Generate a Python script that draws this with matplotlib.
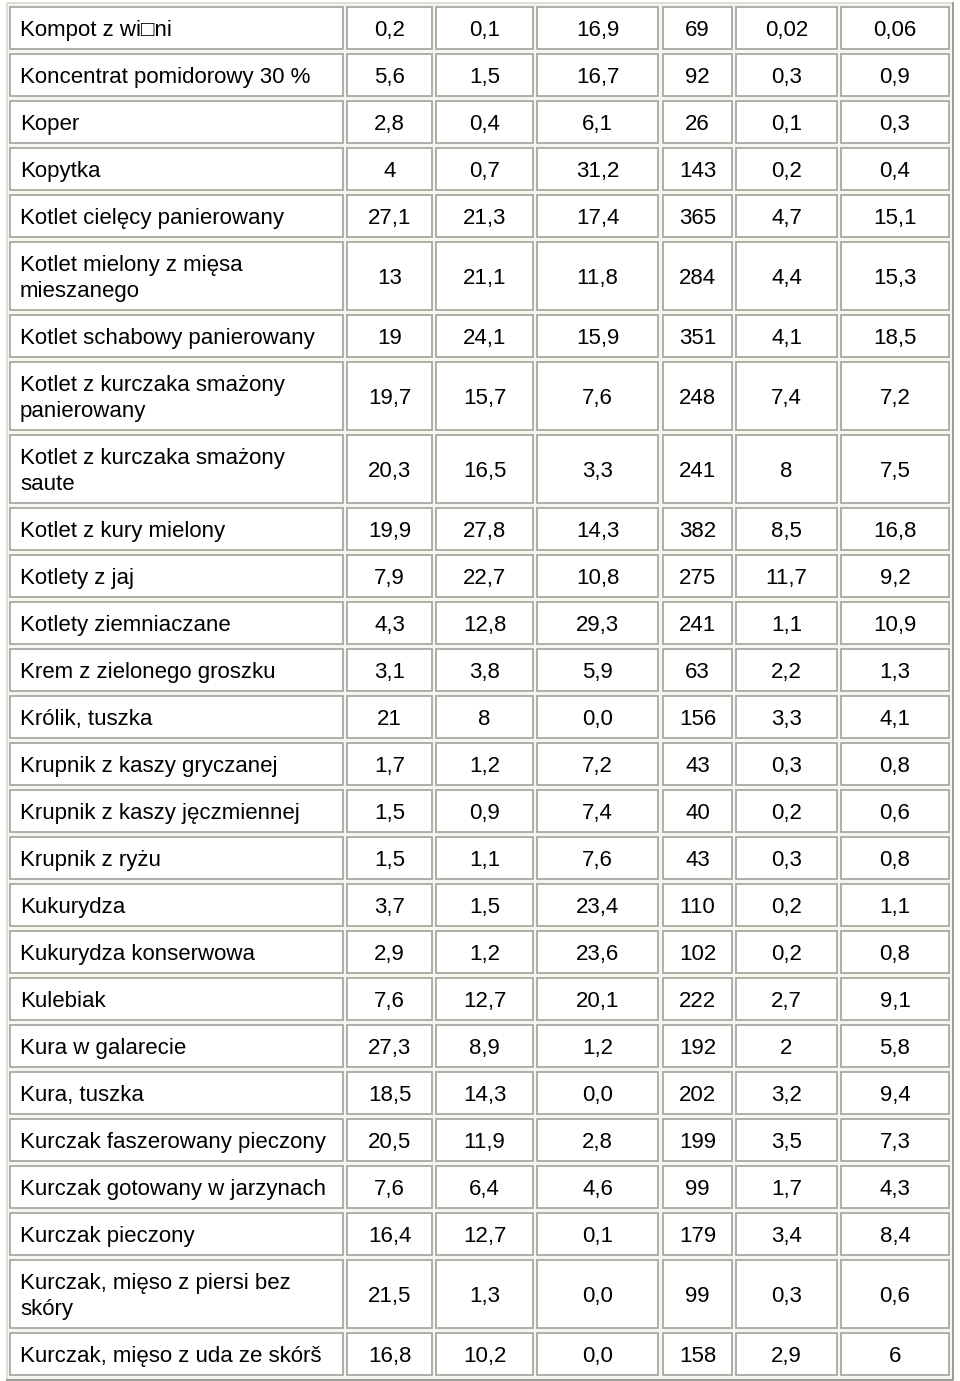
import matplotlib.pyplot as plt
from matplotlib.patches import Rectangle

plt.rcParams['font.family'] = ['Liberation Sans', 'DejaVu Sans']

# nazwy produktow i wartosci (kolumny jak w tabeli)
names = [
    'Kompot z wi\u25a1ni', 'Koncentrat pomidorowy 30 %', 'Koper', 'Kopytka',
    'Kotlet cielęcy panierowany', 'Kotlet mielony z mięsa\nmieszanego',
    'Kotlet schabowy panierowany', 'Kotlet z kurczaka smażony\npanierowany',
    'Kotlet z kurczaka smażony\nsaute', 'Kotlet z kury mielony', 'Kotlety z jaj',
    'Kotlety ziemniaczane', 'Krem z zielonego groszku', 'Królik, tuszka',
    'Krupnik z kaszy gryczanej', 'Krupnik z kaszy jęczmiennej', 'Krupnik z ryżu',
    'Kukurydza', 'Kukurydza konserwowa', 'Kulebiak', 'Kura w galarecie',
    'Kura, tuszka', 'Kurczak faszerowany pieczony', 'Kurczak gotowany w jarzynach',
    'Kurczak pieczony', 'Kurczak, mięso z piersi bez\nskóry',
    'Kurczak, mięso z uda ze skórš',
]
col1 = ['0,2', '5,6', '2,8', '4', '27,1', '13', '19', '19,7', '20,3', '19,9', '7,9',
        '4,3', '3,1', '21', '1,7', '1,5', '1,5', '3,7', '2,9', '7,6', '27,3', '18,5',
        '20,5', '7,6', '16,4', '21,5', '16,8']
col2 = ['0,1', '1,5', '0,4', '0,7', '21,3', '21,1', '24,1', '15,7', '16,5', '27,8', '22,7',
        '12,8', '3,8', '8', '1,2', '0,9', '1,1', '1,5', '1,2', '12,7', '8,9', '14,3',
        '11,9', '6,4', '12,7', '1,3', '10,2']
col3 = ['16,9', '16,7', '6,1', '31,2', '17,4', '11,8', '15,9', '7,6', '3,3', '14,3', '10,8',
        '29,3', '5,9', '0,0', '7,2', '7,4', '7,6', '23,4', '23,6', '20,1', '1,2', '0,0',
        '2,8', '4,6', '0,1', '0,0', '0,0']
col4 = ['69', '92', '26', '143', '365', '284', '351', '248', '241', '382', '275',
        '241', '63', '156', '43', '40', '43', '110', '102', '222', '192', '202',
        '199', '99', '179', '99', '158']
col5 = ['0,02', '0,3', '0,1', '0,2', '4,7', '4,4', '4,1', '7,4', '8', '8,5', '11,7',
        '1,1', '2,2', '3,3', '0,3', '0,2', '0,3', '0,2', '0,2', '2,7', '2', '3,2',
        '3,5', '1,7', '3,4', '0,3', '2,9']
col6 = ['0,06', '0,9', '0,3', '0,4', '15,1', '15,3', '18,5', '7,2', '7,5', '16,8', '9,2',
        '10,9', '1,3', '4,1', '0,8', '0,6', '0,8', '1,1', '0,8', '9,1', '5,8', '9,4',
        '7,3', '4,3', '8,4', '0,6', '6']

columns = [names, col1, col2, col3, col4, col5, col6]

# krawedzie kolumn w pikselach
col_edges = [(10, 343), (347, 432), (436, 533), (537, 658), (663, 732), (736, 837), (841, 949)]
line_h = 26
base_h = 47
fs = 16

bg = '#f6f6f0'
border = '#a9a9a2'

fig = plt.figure(figsize=(9.6, 13.81), dpi=100, facecolor='white')
ax = fig.add_axes([0, 0, 1, 1])
ax.set_xlim(0, 960)
ax.set_ylim(1381, 0)
ax.axis('off')

# ramka calej tabeli
ax.add_patch(Rectangle((7, 3), 946, 1377, facecolor=bg, edgecolor='none'))
ax.plot([7, 7, 953], [1380, 3, 3], color='#d8d8d0', lw=1.2)
ax.plot([7, 953, 953], [1380, 1380, 3], color='#8c8c86', lw=1.2)

top = 5
for r in range(len(names)):
    n_lines = names[r].count('\n') + 1
    h = base_h + (n_lines - 1) * line_h
    y0, y1 = top + 1.5, top + h - 3
    yc = (y0 + y1) / 2
    for c, (x0, x1) in enumerate(col_edges):
        ax.add_patch(Rectangle((x0, y0), x1 - x0, y1 - y0, facecolor='white',
                               edgecolor=border, lw=1.3))
        lines = columns[c][r].split('\n')
        for i, line in enumerate(lines):
            yb = yc + (i - (len(lines) - 1) / 2) * line_h + 8
            if c == 0:
                ax.text(x0 + 10, yb, line, ha='left', va='baseline', fontsize=fs,
                        color='black')
            else:
                ax.text((x0 + x1) / 2, yb, line, ha='center', va='baseline', fontsize=fs,
                        color='black')
    top += h

fig.savefig('out.png', dpi=100, facecolor='white')
